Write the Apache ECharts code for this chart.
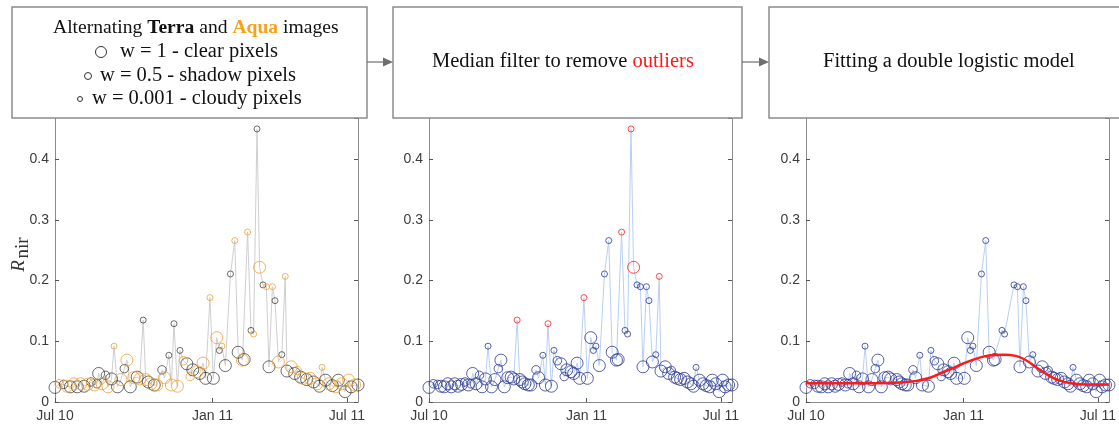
<!DOCTYPE html>
<html>
<head>
<meta charset="utf-8">
<script src="https://cdn.jsdelivr.net/npm/echarts@6/dist/echarts.min.js"></script>
<style>
  html, body { margin: 0; padding: 0; background: #fff; }
  #chart { width: 1119px; height: 428px; }
</style>
</head>
<body>
<div id="chart"></div>
<script>
// time axis in days from Jul 10 (positions as seen in the figure)
const xTickDays = [0, 184, 341]
const xTickLabels = ['Jul 10', 'Jan 11', 'Jul 11']

// observations, in time order
const days = [0, 5, 10, 14, 18, 22, 26, 30, 34, 38, 42, 46, 49, 51, 55, 59, 62, 66, 69, 73,
  77, 81, 84, 88, 92, 96, 99, 103, 106, 109, 112, 116, 119, 125, 128, 133, 136, 139, 143, 146,
  150, 154, 158, 161, 166, 169, 173, 176, 181, 185, 189, 192, 195, 199, 205, 210, 214, 219, 221, 225,
  229, 232, 236, 239, 243, 247, 250, 254, 257, 261, 265, 269, 271, 276, 280, 283, 287, 290, 294, 298,
  302, 306, 309, 312, 316, 320, 324, 328, 331, 335, 339, 343, 346, 350, 354]
const rnir = [0.024, 0.030, 0.029, 0.026, 0.025, 0.030, 0.025, 0.030, 0.026, 0.029, 0.033, 0.028, 0.030, 0.047, 0.030, 0.044, 0.025, 0.038, 0.092, 0.025,
  0.037, 0.055, 0.069, 0.025, 0.040, 0.041, 0.038, 0.135, 0.037, 0.033, 0.030, 0.028, 0.028, 0.053, 0.040, 0.077, 0.028, 0.129, 0.026, 0.085,
  0.068, 0.063, 0.042, 0.053, 0.050, 0.047, 0.064, 0.039, 0.172, 0.039, 0.106, 0.085, 0.092, 0.060, 0.211, 0.266, 0.082, 0.069, 0.070, 0.280,
  0.118, 0.112, 0.450, 0.222, 0.193, 0.190, 0.058, 0.190, 0.167, 0.066, 0.078, 0.207, 0.051, 0.058, 0.047, 0.052, 0.041, 0.039, 0.037, 0.039,
  0.033, 0.030, 0.026, 0.057, 0.036, 0.030, 0.027, 0.025, 0.036, 0.030, 0.017, 0.036, 0.025, 0.028, 0.028]
// T = Terra, A = Aqua
const sensor = ['T', 'A', 'T', 'A', 'T', 'A', 'T', 'A', 'T', 'A', 'T', 'A', 'T', 'T', 'A', 'T', 'A', 'T', 'A', 'T',
  'A', 'T', 'A', 'T', 'A', 'T', 'A', 'T', 'A', 'T', 'A', 'T', 'A', 'T', 'A', 'T', 'A', 'T', 'A', 'T',
  'A', 'T', 'A', 'T', 'A', 'T', 'A', 'T', 'A', 'T', 'A', 'T', 'A', 'T', 'T', 'A', 'T', 'A', 'T', 'A',
  'T', 'A', 'T', 'A', 'T', 'A', 'T', 'A', 'T', 'A', 'T', 'A', 'T', 'A', 'T', 'A', 'T', 'A', 'T', 'A',
  'T', 'A', 'T', 'A', 'T', 'A', 'T', 'A', 'T', 'A', 'T', 'A', 'T', 'A', 'T']
// weights: 1 clear, 0.5 shadow, 0.001 cloudy
const weight = [1, 0.5, 0.5, 1, 1, 1, 1, 1, 1, 1, 0.5, 1, 0.5, 1, 1, 0.5, 1, 1, 0.001, 1,
  1, 0.5, 1, 1, 1, 1, 1, 0.001, 1, 1, 1, 1, 1, 0.5, 1, 0.001, 1, 0.001, 1, 0.001,
  0.5, 1, 0.5, 1, 1, 1, 1, 1, 0.001, 1, 1, 0.001, 0.001, 1, 0.001, 0.001, 1, 1, 1, 0.001,
  0.001, 0.001, 0.001, 1, 0.001, 0.001, 1, 0.001, 0.001, 1, 0.001, 0.001, 1, 1, 1, 0.5, 1, 1, 1, 1,
  1, 1, 1, 0.001, 1, 1, 1, 1, 1, 1, 1, 1, 1, 1, 1]
// indices flagged by the median filter
const outliers = [27, 37, 48, 59, 62, 63, 71]

// fitted double logistic curve
const curveDays = [0, 40, 80, 110, 130, 145, 160, 175, 190, 205, 220, 232, 245, 258, 270, 282, 295, 310, 330, 354]
const curveVals = [0.031, 0.031, 0.031, 0.032, 0.035, 0.040, 0.049, 0.058, 0.067, 0.074, 0.0775, 0.078, 0.076, 0.068, 0.056, 0.045, 0.036, 0.031, 0.029, 0.029]

const symSize = w => w >= 1 ? 12 : (w >= 0.5 ? 8.5 : 6)
const axisGray = '#8a8a8a'
const labelFont = { fontFamily: 'Liberation Sans, Arial, sans-serif', fontSize: 14, color: '#3c3c3c' }
const serif = 'Liberation Serif, Times New Roman, serif'
const fs = 20.5
const fsTitle = 19.6

const pts = days.map((d, i) => [d, rnir[i], weight[i]])
const kept = pts.filter((p, i) => outliers.indexOf(i) < 0)

const panelLefts = [55, 429, 806]
const grids = panelLefts.map(l => ({ left: l, width: 303, top: 118, height: 284 }))

const xAxes = grids.map((g, i) => ({
  type: 'value', gridIndex: i, min: 0, max: 354,
  splitLine: { show: false },
  axisLine: { show: true, lineStyle: { color: axisGray, width: 1 } },
  axisTick: { inside: true, length: 4, lineStyle: { color: '#555' }, customValues: xTickDays },
  axisLabel: Object.assign({ margin: 7, customValues: xTickDays,
    formatter: v => xTickLabels[xTickDays.indexOf(v)] || '' }, labelFont)
}))
const yAxes = []
grids.forEach((g, i) => {
  yAxes.push({
    type: 'value', gridIndex: i, min: 0, max: 0.468, interval: 0.1, position: 'left',
    splitLine: { show: false },
    axisLine: { show: true, lineStyle: { color: axisGray, width: 1 } },
    axisTick: { inside: true, length: 4, lineStyle: { color: '#555' } },
    axisLabel: Object.assign({ margin: 6, showMaxLabel: false,
      formatter: v => v === 0 ? '0' : v.toFixed(1) }, labelFont)
  })
  yAxes.push({
    type: 'value', gridIndex: i, min: 0, max: 0.468, interval: 0.1, position: 'right',
    splitLine: { show: false },
    axisLine: { show: true, lineStyle: { color: axisGray, width: 1 } },
    axisTick: { inside: true, length: 4, lineStyle: { color: '#555' } },
    axisLabel: { show: false }
  })
})

function circles (data, ax, color, name) {
  return {
    type: 'scatter', name: name, xAxisIndex: ax, yAxisIndex: ax * 2, data: data, clip: false,
    symbol: 'circle', symbolSize: v => symSize(v[2]), z: 3,
    itemStyle: { color: 'rgba(0,0,0,0)', borderColor: color, borderWidth: 1 }
  }
}
function joinLine (data, ax, color) {
  return {
    type: 'line', xAxisIndex: ax, yAxisIndex: ax * 2, data: data, symbol: 'none', z: 2,
    lineStyle: { color: color, width: 1 }
  }
}

const series = [
  joinLine(pts, 0, '#cfcfcf'),
  circles(pts.filter((p, i) => sensor[i] === 'T'), 0, 'rgba(25,25,25,0.8)', 'Terra'),
  circles(pts.filter((p, i) => sensor[i] === 'A'), 0, '#eda033', 'Aqua'),
  joinLine(pts, 1, '#b8d0f0'),
  circles(kept, 1, '#2c3a94', 'kept'),
  circles(pts.filter((p, i) => outliers.indexOf(i) >= 0), 1, '#ff2020', 'outliers'),
  joinLine(kept, 2, '#b8d0f0'),
  circles(kept, 2, '#2c3a94', 'kept'),
  {
    type: 'line', xAxisIndex: 2, yAxisIndex: 4, smooth: true, symbol: 'none', z: 4,
    data: curveDays.map((d, i) => [d, curveVals[i]]),
    lineStyle: { color: '#ff1a1a', width: 2.5 }
  }
]

const boxStyle = { fill: '#fff', stroke: '#8c8c8c', lineWidth: 1.5 }
function box (x, w) {
  return { type: 'rect', shape: { x: x, y: 7, width: w, height: 111 }, style: boxStyle, z: 100 }
}
function arrow (x1, x2) {
  return [
    { type: 'line', shape: { x1: x1, y1: 62, x2: x2 - 8, y2: 62 }, style: { stroke: '#6e6e6e', lineWidth: 1.2 }, z: 101 },
    { type: 'polygon', shape: { points: [[x2 - 10, 57.5], [x2, 62], [x2 - 10, 66.5]] }, style: { fill: '#6e6e6e' }, z: 101 }
  ]
}
function txt (x, y, text, extra) {
  return {
    type: 'text', x: x, y: y, z: 102,
    style: Object.assign({ text: text, font: fs + 'px ' + serif, fill: '#111',
      align: 'left', textAlign: 'left', verticalAlign: 'middle', textVerticalAlign: 'middle' }, extra || {})
  }
}
function ring (x, y, r) {
  return { type: 'circle', shape: { cx: x, cy: y, r: r }, style: { fill: 'none', stroke: '#333', lineWidth: 1 }, z: 102 }
}

const graphics = [
  box(12, 355), box(393, 349), box(769, 400),
  ...arrow(367, 393), ...arrow(742, 769),
  txt(53, 28, '{n|Alternating }{b|Terra}{n| and }{o|Aqua}{n| images}', {
    rich: {
      n: { fontFamily: serif, fontSize: fsTitle, fill: '#111' },
      b: { fontFamily: serif, fontSize: fsTitle, fontWeight: 'bold', fill: '#111' },
      o: { fontFamily: serif, fontSize: fsTitle, fontWeight: 'bold', fill: '#f7a21b' }
    }
  }),
  ring(101, 52, 5.5), txt(120, 52, 'w = 1 - clear pixels'),
  ring(88, 76, 3.5), txt(100, 76, 'w = 0.5 - shadow pixels'),
  ring(80, 99, 2.5), txt(92, 99, 'w = 0.001 - cloudy pixels'),
  txt(432, 62, '{n|Median filter to remove }{r|outliers}', {
    rich: {
      n: { fontFamily: serif, fontSize: fs, fill: '#111' },
      r: { fontFamily: serif, fontSize: fs, fill: '#ff1a1a' }
    }
  }),
  txt(823, 62, 'Fitting a double logistic model'),
  // y axis title R_nir
  { type: 'text', x: 19, y: 266, rotation: Math.PI / 2, z: 50,
    style: { text: 'R', font: 'italic 19px ' + serif, fill: '#333', align: 'center', textAlign: 'center', verticalAlign: 'middle', textVerticalAlign: 'middle' } },
  { type: 'text', x: 23, y: 248, rotation: Math.PI / 2, z: 50,
    style: { text: 'nir', font: '19px ' + serif, fill: '#333', align: 'center', textAlign: 'center', verticalAlign: 'middle', textVerticalAlign: 'middle' } }
]

const chart = echarts.init(document.getElementById('chart'), null, { renderer: 'canvas' })
chart.setOption({
  animation: false,
  backgroundColor: '#fff',
  grid: grids,
  xAxis: xAxes,
  yAxis: yAxes,
  series: series,
  graphic: graphics
})
</script>
</body>
</html>
